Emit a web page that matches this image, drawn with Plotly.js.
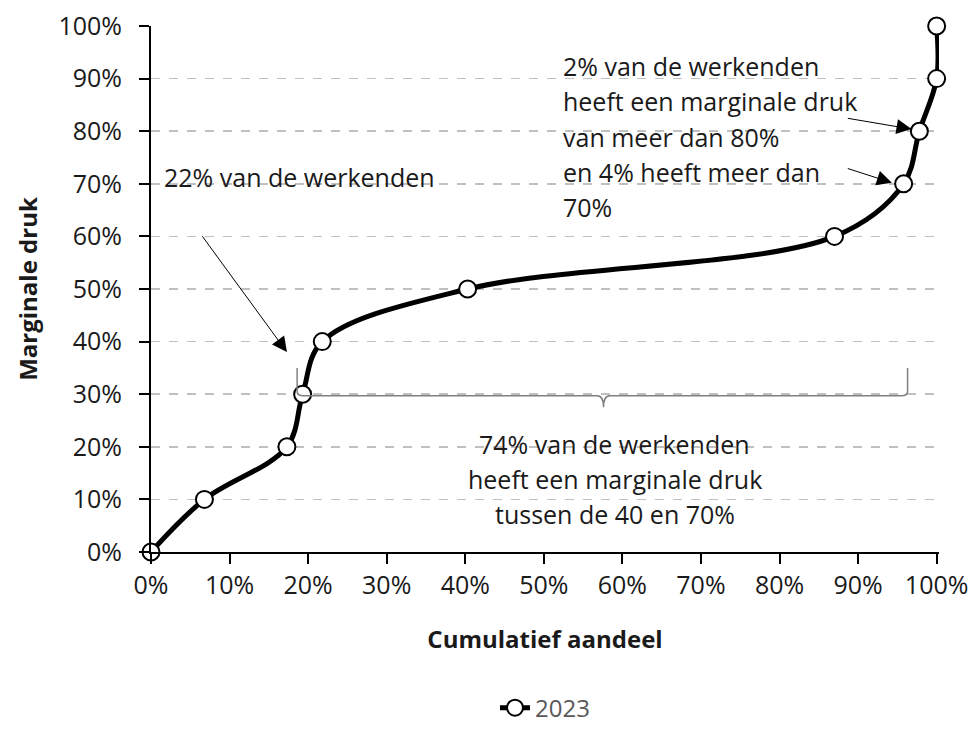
<!DOCTYPE html>
<html>
<head>
<meta charset="utf-8">
<script src="https://cdn.plot.ly/plotly-3.0.1.min.js"></script>
<style>html,body{margin:0;padding:0;background:#fff;}#chart{width:976px;height:730px;}</style>
</head>
<body>
<div id="chart"></div>
<script>
// Data (fractions)
const seriesName = "2023";
const cumulatiefAandeel = [0, 0.068, 0.173, 0.193, 0.218, 0.403, 0.870, 0.958, 0.978, 1.0, 1.0];
const marginaleDruk     = [0, 0.10, 0.20, 0.30, 0.40, 0.50, 0.60, 0.70, 0.80, 0.90, 1.00];
const tickVals = [0, 0.1, 0.2, 0.3, 0.4, 0.5, 0.6, 0.7, 0.8, 0.9, 1.0];
const tickText = ["0%","10%","20%","30%","40%","50%","60%","70%","80%","90%","100%"];
const xTitle = "Cumulatief aandeel";
const yTitle = "Marginale druk";
const note22 = ["22% van de werkenden"];
const note2 = ["2% van de werkenden","heeft een marginale druk","van meer dan 80%","en 4% heeft meer dan","70%"];
const note74 = ["74% van de werkenden","heeft een marginale druk","tussen de 40 en 70%"];

const FONT = "Open Sans, sans-serif";
const txtColor = "#1a1a1a";

const annotations = [];
function addLines(lines, x, y0, dy, anchor) {
  lines.forEach((t, i) => annotations.push({
    xref: "x", yref: "y", x: x, y: y0 - i * dy, text: t, showarrow: false,
    xanchor: anchor, yanchor: "middle", font: {family: FONT, size: 25, color: txtColor}
  }));
}
addLines(note22, 0.014, 0.712, 0.066, "left");
addLines(note2, 0.522, 0.924, 0.0672, "left");
addLines(note74, 0.59, 0.205, 0.0665, "center");

function arrow(x0, y0, x1, y1) {
  annotations.push({xref: "x", yref: "y", axref: "x", ayref: "y", x: x1, y: y1, ax: x0, ay: y0,
    text: "", showarrow: true, arrowhead: 2, arrowsize: 3, arrowwidth: 1, arrowcolor: "#000", standoff: 0});
}
arrow(0.064, 0.603, 0.173, 0.38);
arrow(0.885, 0.825, 0.968, 0.804);
arrow(0.885, 0.730, 0.943, 0.702);

const shapes = [{
  type: "path", xref: "x", yref: "y",
  path: "M 0.186 0.35 L 0.186 0.305 Q 0.186 0.297 0.194 0.297 L 0.568 0.297 Q 0.576 0.297 0.576 0.275 Q 0.576 0.297 0.584 0.297 L 0.955 0.297 Q 0.963 0.297 0.963 0.305 L 0.963 0.35",
  line: {color: "#808080", width: 1.5}
}];

const trace = {
  x: cumulatiefAandeel, y: marginaleDruk, name: seriesName,
  type: "scatter", mode: "lines+markers",
  line: {color: "#000", width: 5, shape: "spline", smoothing: 1},
  marker: {symbol: "circle", size: 17, color: "#fff", line: {color: "#000", width: 2}},
  cliponaxis: false
};

const layout = {
  width: 976, height: 730,
  margin: {l: 151, r: 37, t: 26, b: 178},
  paper_bgcolor: "#fff", plot_bgcolor: "#fff",
  font: {family: FONT, color: txtColor},
  showlegend: true,
  legend: {orientation: "h", x: 0.5, xanchor: "center", xref: "paper", yref: "container", y: 0.03, yanchor: "middle",
    font: {family: FONT, size: 24, color: "#595959"}, itemwidth: 30},
  xaxis: {
    range: [0, 1.003], tickvals: tickVals, ticktext: tickText,
    showgrid: false, zeroline: false, automargin: false,
    showline: true, linecolor: "#000", linewidth: 2,
    ticks: "outside", ticklen: 10, tickwidth: 2, tickcolor: "#000",
    tickfont: {family: FONT, size: 25, color: txtColor},
    title: {text: xTitle, font: {family: FONT, size: 24, color: txtColor, weight: "bold"}, standoff: 31}
  },
  yaxis: {
    range: [0, 1], tickvals: tickVals, ticktext: tickText,
    showgrid: true, gridcolor: "#c0c0c0", gridwidth: 1.5, griddash: "dash",
    zeroline: false, automargin: false,
    showline: true, linecolor: "#000", linewidth: 2,
    ticks: "outside", ticklen: 10, tickwidth: 2, tickcolor: "#000", ticklabelstandoff: 12,
    tickfont: {family: FONT, size: 25, color: txtColor},
    title: {text: yTitle, font: {family: FONT, size: 24, color: txtColor, weight: "bold"}, standoff: 14}
  },
  annotations: annotations,
  shapes: shapes
};

Plotly.newPlot("chart", [trace], layout, {displayModeBar: false, staticPlot: true});
</script>
</body>
</html>
